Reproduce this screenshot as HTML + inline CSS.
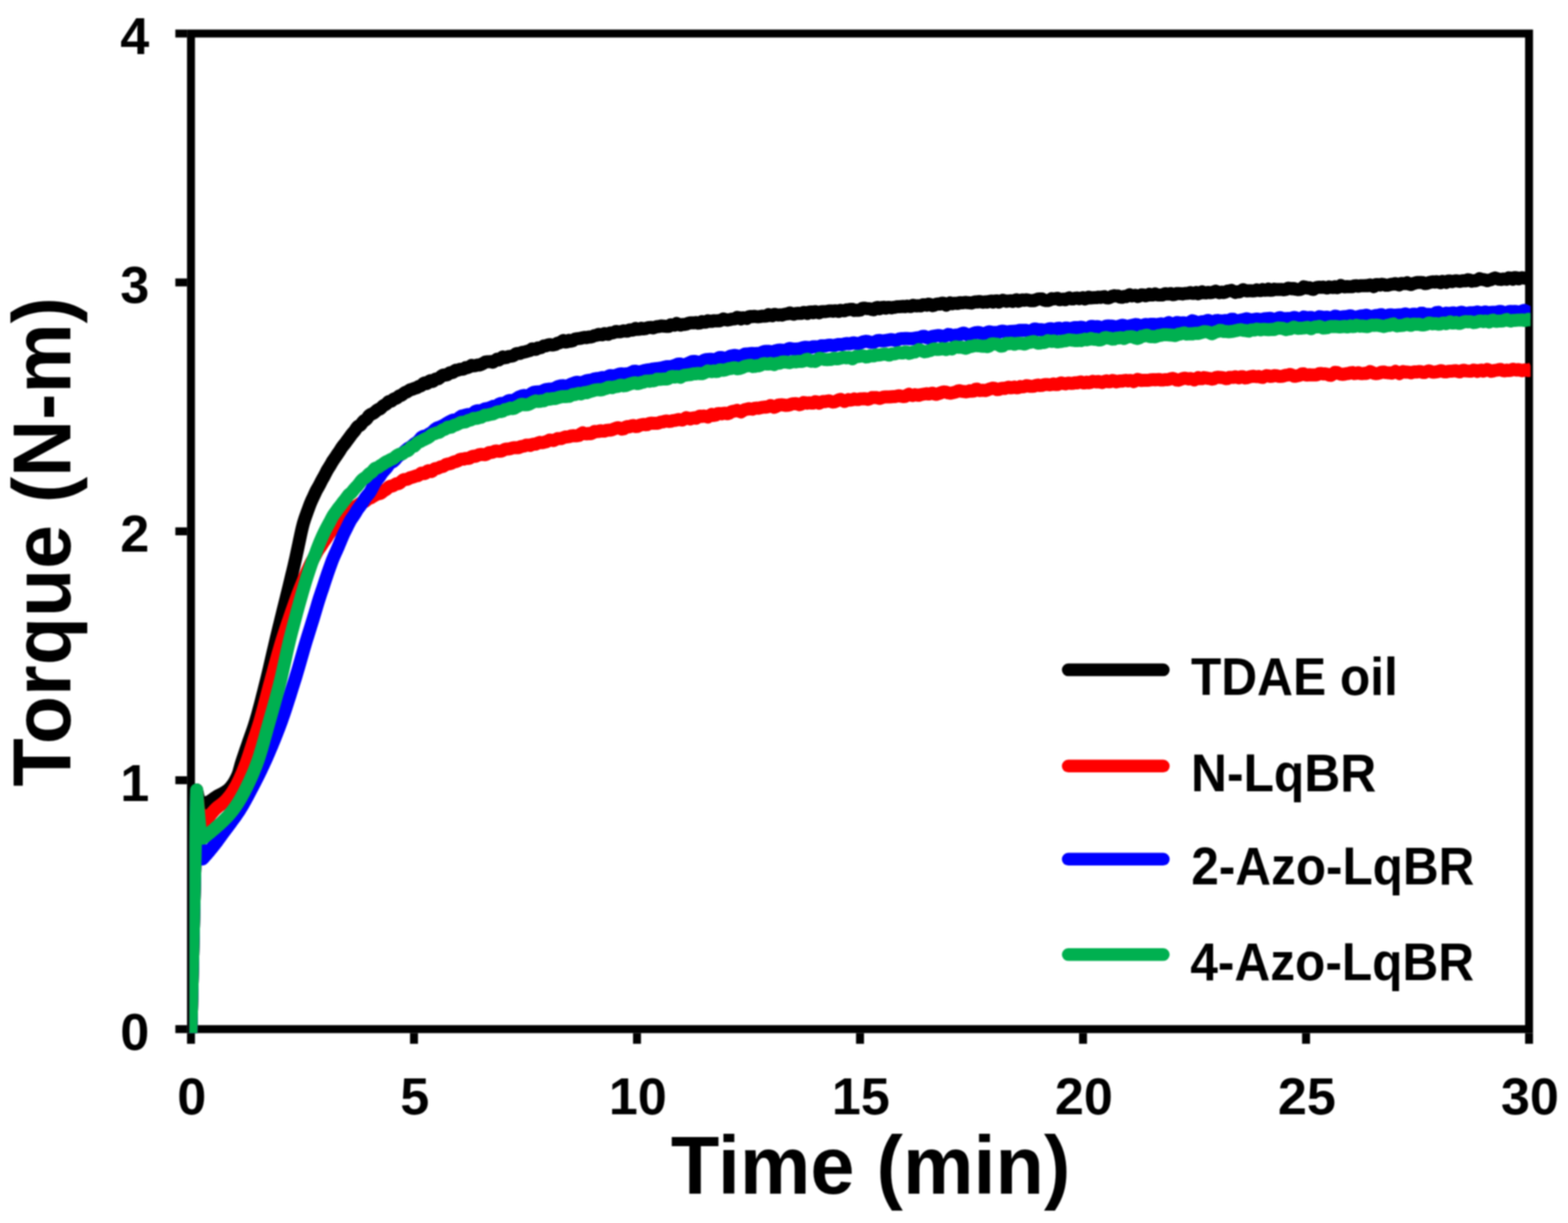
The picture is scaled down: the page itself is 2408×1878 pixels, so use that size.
<!DOCTYPE html>
<html lang="en">
<head>
<meta charset="utf-8">
<title>Torque vs. Time</title>
<style>
html,body{margin:0;padding:0;background:#fff;overflow:hidden}
svg{display:block;filter:blur(0.8px)}
text{font-family:"Liberation Sans",sans-serif;font-weight:700;fill:#000}
.ax{stroke:#000;stroke-width:12.2;fill:none}
.c{fill:none;stroke-width:20;stroke-linejoin:round;stroke-linecap:butt}
.lg{fill:none;stroke-width:19.5;stroke-linecap:round}
</style>
</head>
<body>
<svg role="img" aria-label="Torque versus time curves" width="2408" height="1878" viewBox="0 0 2408 1878">
<defs><clipPath id="plot"><rect x="290.8" y="0" width="2059.7" height="1586.4"/></clipPath></defs>
<rect x="0" y="0" width="2408" height="1878" fill="#fff"/>
<g class="ax">
<rect x="293.3" y="51.5" width="2054.9" height="1528.8"/>
<line x1="269.3" y1="1580.30" x2="287.2" y2="1580.30"/>
<line x1="269.3" y1="1198.10" x2="287.2" y2="1198.10"/>
<line x1="269.3" y1="815.90" x2="287.2" y2="815.90"/>
<line x1="269.3" y1="433.70" x2="287.2" y2="433.70"/>
<line x1="269.3" y1="51.50" x2="287.2" y2="51.50"/>
<line x1="293.30" y1="1586.4" x2="293.30" y2="1602.8"/>
<line x1="635.78" y1="1586.4" x2="635.78" y2="1602.8"/>
<line x1="978.27" y1="1586.4" x2="978.27" y2="1602.8"/>
<line x1="1320.75" y1="1586.4" x2="1320.75" y2="1602.8"/>
<line x1="1663.23" y1="1586.4" x2="1663.23" y2="1602.8"/>
<line x1="2005.72" y1="1586.4" x2="2005.72" y2="1602.8"/>
<line x1="2348.20" y1="1586.4" x2="2348.20" y2="1602.8"/>
</g>
<g clip-path="url(#plot)">
<path class="c" stroke="#000000" d="M293.1,1592.0 L302.0,1213.0 L307.0,1236.0 L307.0,1236.0 L308.5,1235.7 L310.0,1235.3 L311.5,1234.8 L313.0,1234.3 L314.5,1233.8 L316.0,1233.2 L317.5,1232.6 L319.0,1231.9 L320.5,1231.3 L322.0,1230.5 L323.5,1229.6 L325.0,1228.6 L326.5,1227.5 L328.0,1226.4 L329.5,1225.4 L331.0,1224.3 L332.5,1223.3 L334.0,1222.4 L335.5,1221.6 L337.0,1220.8 L338.5,1220.0 L340.0,1219.2 L341.5,1218.5 L343.0,1217.7 L344.5,1216.8 L346.0,1215.9 L347.5,1214.9 L349.0,1213.8 L350.5,1212.6 L352.0,1211.2 L353.5,1209.6 L355.0,1207.8 L356.5,1205.8 L358.0,1203.7 L359.5,1201.3 L361.0,1198.8 L362.5,1196.0 L364.0,1193.0 L365.5,1189.6 L367.0,1185.0 L368.5,1179.7 L370.0,1174.3 L371.5,1169.4 L373.0,1164.8 L374.5,1160.4 L376.0,1156.0 L377.5,1151.6 L379.0,1147.3 L380.5,1142.9 L382.0,1138.5 L383.5,1134.3 L385.0,1130.0 L386.5,1125.8 L388.0,1121.6 L389.5,1117.2 L391.0,1112.6 L392.5,1107.7 L394.0,1102.6 L395.5,1097.4 L397.0,1091.9 L398.5,1086.4 L400.0,1080.7 L401.5,1074.9 L403.0,1069.0 L404.5,1063.1 L406.0,1057.2 L407.5,1051.2 L409.0,1045.2 L410.5,1039.0 L412.0,1032.8 L413.5,1026.5 L415.0,1020.1 L416.5,1013.6 L418.0,1007.1 L419.5,1000.6 L421.0,994.2 L422.5,987.8 L424.0,981.4 L425.5,975.1 L427.0,968.9 L428.5,962.7 L430.0,956.6 L431.5,950.4 L433.0,944.3 L434.5,938.2 L436.0,932.2 L437.5,926.1 L439.0,920.1 L440.5,914.0 L442.0,908.0 L443.5,901.8 L445.0,895.6 L446.5,889.4 L448.0,883.2 L449.5,877.0 L451.0,870.7 L452.5,864.2 L454.0,857.6 L455.5,850.7 L457.0,843.6 L458.5,836.5 L460.0,829.4 L461.5,822.3 L463.0,815.4 L464.5,809.0 L466.0,803.3 L467.5,798.5 L469.0,794.1 L470.5,789.9 L472.0,785.7 L473.5,781.6 L475.0,777.6 L476.5,773.6 L478.0,769.9 L479.5,766.6 L481.0,763.5 L482.5,760.3 L484.0,757.0 L485.5,753.8 L487.0,751.0 L488.5,748.4 L490.0,745.8 L491.5,743.0 L493.0,739.9 L494.5,737.0 L496.0,734.3 L497.5,731.7 L499.0,728.9 L500.5,726.0 L502.0,723.0 L503.5,720.4 L505.0,718.1 L506.5,715.8 L508.0,713.2 L509.5,710.5 L511.0,708.0 L512.5,705.8 L514.0,703.6 L515.5,701.5 L517.0,699.2 L518.5,697.0 L520.0,694.8 L521.5,692.6 L523.0,690.2 L524.5,687.8 L526.0,685.7 L527.5,683.8 L529.0,682.0 L530.5,680.1 L532.0,678.0 L533.5,675.9 L535.0,673.9 L536.5,672.0 L538.0,669.9 L539.5,667.8 L541.0,665.9 L542.5,664.2 L544.0,662.5 L545.5,660.5 L547.0,658.1 L548.5,656.0 L550.0,654.6 L551.5,653.9 L553.0,653.1 L554.5,651.7 L556.0,649.5 L557.5,647.5 L559.0,646.1 L560.5,645.4 L562.0,644.5 L563.5,642.8 L565.0,640.7 L566.5,638.6 L568.0,637.2 L569.5,636.3 L571.0,635.7 L572.5,635.0 L574.0,634.1 L575.5,633.0 L577.0,631.7 L578.5,630.4 L580.0,629.3 L581.5,628.6 L583.0,628.1 L584.5,627.2 L586.0,625.7 L587.5,624.0 L589.0,622.7 L590.5,622.0 L592.0,621.3 L593.5,620.1 L595.0,618.5 L596.5,617.1 L598.0,616.4 L599.5,616.3 L601.0,615.9 L602.5,614.8 L604.0,613.4 L605.5,612.3 L607.0,611.9 L608.5,611.5 L610.0,610.6 L611.5,609.3 L613.0,608.1 L614.5,607.5 L616.0,607.1 L617.5,606.3 L619.0,605.0 L620.5,603.7 L622.0,602.8 L623.5,602.3 L625.0,601.8 L626.5,600.8 L628.0,599.7 L629.5,598.8 L631.0,598.3 L632.5,598.0 L634.0,597.4 L635.5,596.8 L637.0,596.2 L638.5,595.8 L640.0,595.3 L641.5,594.4 L643.0,593.6 L644.5,593.1 L646.0,592.6 L647.5,591.8 L649.0,590.3 L650.5,588.7 L652.0,588.1 L653.5,588.5 L655.0,589.0 L656.5,588.5 L658.0,586.9 L659.5,585.2 L661.0,584.6 L662.5,585.2 L664.0,585.7 L665.5,585.2 L667.0,583.8 L668.5,582.3 L670.0,581.7 L671.5,581.7 L673.0,581.6 L674.5,580.8 L676.0,579.4 L677.5,577.9 L679.0,576.8 L680.5,576.1 L682.0,575.8 L683.5,575.8 L685.0,575.9 L686.5,575.7 L688.0,574.7 L689.5,573.4 L691.0,572.4 L692.5,572.2 L694.0,572.3 L695.5,572.0 L697.0,570.9 L698.5,569.4 L700.0,568.6 L703.0,568.5 L706.0,567.3 L709.0,567.0 L712.0,566.8 L715.0,564.6 L718.0,564.4 L721.0,563.2 L724.0,561.1 L727.0,561.8 L730.0,561.5 L733.0,560.6 L736.0,560.6 L739.0,559.5 L742.0,558.0 L745.0,556.1 L748.0,555.4 L751.0,555.4 L754.0,555.2 L757.0,556.3 L760.0,554.3 L763.0,551.6 L766.0,552.8 L769.0,550.7 L772.0,548.1 L775.0,549.5 L778.0,549.0 L781.0,547.4 L784.0,547.1 L787.0,546.7 L790.0,545.3 L793.0,542.9 L796.0,542.7 L799.0,542.7 L802.0,540.9 L805.0,540.7 L808.0,539.9 L811.0,539.0 L814.0,538.1 L817.0,535.7 L820.0,536.1 L823.0,536.6 L826.0,534.3 L829.0,534.2 L832.0,533.3 L835.0,531.3 L838.0,531.1 L841.0,530.0 L844.0,529.2 L847.0,529.7 L850.0,529.7 L853.0,528.9 L856.0,527.1 L859.0,526.5 L862.0,524.7 L865.0,522.9 L868.0,525.3 L871.0,525.1 L874.0,522.6 L877.0,523.9 L880.0,523.1 L883.0,520.6 L886.0,520.2 L889.0,519.8 L892.0,519.6 L895.0,518.6 L898.0,518.1 L901.0,518.5 L904.0,517.6 L907.0,517.4 L910.0,516.7 L913.0,515.3 L916.0,514.9 L919.0,513.5 L922.0,513.8 L925.0,514.2 L928.0,512.2 L931.0,513.1 L934.0,513.4 L937.0,511.2 L940.0,511.3 L943.0,510.5 L946.0,508.9 L949.0,509.5 L952.0,509.6 L955.0,508.8 L958.0,508.0 L961.0,508.5 L964.0,508.4 L967.0,506.4 L970.0,507.1 L973.0,506.6 L976.0,504.3 L979.0,505.8 L982.0,505.6 L985.0,504.1 L988.0,505.1 L991.0,504.7 L994.0,503.5 L997.0,502.9 L1000.0,502.7 L1003.0,503.5 L1006.0,502.5 L1009.0,501.5 L1012.0,501.4 L1015.0,500.5 L1018.0,500.7 L1021.0,500.9 L1024.0,501.3 L1027.0,501.3 L1030.0,498.8 L1033.0,499.1 L1036.0,499.4 L1039.0,496.7 L1042.0,497.8 L1045.0,499.3 L1048.0,498.3 L1051.0,498.3 L1054.0,497.7 L1057.0,496.4 L1060.0,495.7 L1063.0,495.7 L1066.0,495.8 L1069.0,495.2 L1072.0,496.2 L1075.0,496.1 L1078.0,493.8 L1081.0,494.8 L1084.0,494.7 L1087.0,492.5 L1090.0,493.6 L1093.0,493.6 L1096.0,492.4 L1099.0,492.7 L1102.0,492.6 L1105.0,492.8 L1108.0,491.4 L1111.0,489.7 L1114.0,491.0 L1117.0,491.5 L1120.0,490.9 L1123.0,490.2 L1126.0,489.8 L1129.0,489.5 L1132.0,487.3 L1135.0,487.9 L1138.0,489.8 L1141.0,488.0 L1144.0,488.4 L1147.0,489.1 L1150.0,486.4 L1153.0,486.0 L1156.0,486.2 L1159.0,485.7 L1162.0,486.3 L1165.0,486.4 L1168.0,486.0 L1171.0,485.4 L1174.0,485.5 L1177.0,485.2 L1180.0,483.1 L1183.0,484.1 L1186.0,484.9 L1189.0,482.7 L1192.0,483.2 L1195.0,483.8 L1198.0,483.4 L1201.0,483.9 L1204.0,482.8 L1207.0,482.2 L1210.0,481.8 L1213.0,480.5 L1216.0,481.8 L1219.0,482.5 L1222.0,481.5 L1225.0,481.1 L1228.0,481.2 L1231.0,481.2 L1234.0,479.8 L1237.0,480.0 L1240.0,481.4 L1243.0,479.2 L1246.0,478.9 L1249.0,480.2 L1252.0,478.5 L1255.0,479.3 L1258.0,480.5 L1261.0,478.7 L1264.0,478.4 L1267.0,478.5 L1270.0,478.1 L1273.0,477.6 L1276.0,477.4 L1279.0,477.9 L1282.0,477.2 L1285.0,477.5 L1288.0,478.2 L1291.0,476.5 L1294.0,477.0 L1297.0,477.3 L1300.0,475.7 L1303.0,475.7 L1306.0,474.9 L1309.0,475.0 L1312.0,476.7 L1315.0,476.3 L1318.0,476.6 L1321.0,476.2 L1324.0,473.7 L1327.0,473.2 L1330.0,473.7 L1333.0,473.9 L1336.0,474.2 L1339.0,475.2 L1342.0,475.8 L1345.0,472.8 L1348.0,472.1 L1351.0,474.1 L1354.0,472.2 L1357.0,471.8 L1360.0,473.3 L1363.0,472.0 L1366.0,472.1 L1369.0,472.7 L1372.0,472.0 L1375.0,471.7 L1378.0,470.9 L1381.0,470.9 L1384.0,470.7 L1387.0,470.5 L1390.0,470.9 L1393.0,470.0 L1396.0,470.5 L1399.0,470.7 L1402.0,468.7 L1405.0,469.3 L1408.0,469.8 L1411.0,469.4 L1414.0,469.8 L1417.0,468.1 L1420.0,467.9 L1423.0,468.7 L1426.0,467.0 L1429.0,467.7 L1432.0,469.5 L1435.0,468.6 L1438.0,467.1 L1441.0,466.7 L1444.0,467.0 L1447.0,465.5 L1450.0,465.9 L1453.0,468.6 L1456.0,466.8 L1459.0,465.1 L1462.0,466.5 L1465.0,465.7 L1468.0,465.7 L1471.0,466.1 L1474.0,464.8 L1477.0,465.0 L1480.0,464.7 L1483.0,464.3 L1486.0,464.8 L1489.0,465.0 L1492.0,465.4 L1495.0,464.3 L1498.0,463.6 L1501.0,463.8 L1504.0,462.9 L1507.0,463.6 L1510.0,464.2 L1513.0,463.4 L1516.0,464.0 L1519.0,462.8 L1522.0,462.3 L1525.0,463.9 L1528.0,462.3 L1531.0,462.1 L1534.0,463.9 L1537.0,462.5 L1540.0,461.1 L1543.0,461.7 L1546.0,462.7 L1549.0,462.2 L1552.0,461.8 L1555.0,462.9 L1558.0,461.3 L1561.0,460.4 L1564.0,462.6 L1567.0,461.5 L1570.0,460.4 L1573.0,461.2 L1576.0,460.3 L1579.0,460.9 L1582.0,461.7 L1585.0,461.6 L1588.0,461.8 L1591.0,460.4 L1594.0,459.2 L1597.0,458.9 L1600.0,459.0 L1603.0,460.7 L1606.0,461.4 L1609.0,461.6 L1612.0,460.7 L1615.0,458.6 L1618.0,459.0 L1621.0,458.6 L1624.0,458.0 L1627.0,460.3 L1630.0,459.9 L1633.0,459.2 L1636.0,460.3 L1639.0,458.4 L1642.0,457.4 L1645.0,458.9 L1648.0,459.0 L1651.0,458.0 L1654.0,457.6 L1657.0,458.7 L1660.0,458.0 L1663.0,457.1 L1666.0,459.1 L1669.0,458.0 L1672.0,456.3 L1675.0,457.6 L1678.0,457.2 L1681.0,457.0 L1684.0,457.1 L1687.0,456.2 L1690.0,456.8 L1693.0,456.1 L1696.0,455.5 L1699.0,457.3 L1702.0,457.5 L1705.0,456.5 L1708.0,454.9 L1711.0,454.1 L1714.0,454.6 L1717.0,454.5 L1720.0,456.1 L1723.0,456.6 L1726.0,455.2 L1729.0,455.6 L1732.0,454.0 L1735.0,452.5 L1738.0,454.5 L1741.0,453.9 L1744.0,453.5 L1747.0,455.4 L1750.0,454.5 L1753.0,452.7 L1756.0,452.9 L1759.0,454.3 L1762.0,453.6 L1765.0,451.9 L1768.0,453.1 L1771.0,453.0 L1774.0,451.4 L1777.0,452.8 L1780.0,453.1 L1783.0,453.0 L1786.0,452.9 L1789.0,451.0 L1792.0,451.3 L1795.0,451.5 L1798.0,450.8 L1801.0,452.4 L1804.0,452.2 L1807.0,450.8 L1810.0,450.7 L1813.0,450.9 L1816.0,451.4 L1819.0,450.8 L1822.0,450.6 L1825.0,450.3 L1828.0,449.3 L1831.0,450.6 L1834.0,450.4 L1837.0,449.1 L1840.0,451.1 L1843.0,450.1 L1846.0,448.0 L1849.0,449.6 L1852.0,449.7 L1855.0,449.0 L1858.0,449.4 L1861.0,449.3 L1864.0,448.3 L1867.0,447.1 L1870.0,448.4 L1873.0,449.4 L1876.0,448.5 L1879.0,449.3 L1882.0,448.6 L1885.0,446.9 L1888.0,446.6 L1891.0,445.8 L1894.0,447.4 L1897.0,449.1 L1900.0,448.1 L1903.0,448.2 L1906.0,446.9 L1909.0,444.8 L1912.0,446.1 L1915.0,446.8 L1918.0,446.5 L1921.0,446.5 L1924.0,446.7 L1927.0,446.5 L1930.0,445.1 L1933.0,446.0 L1936.0,446.3 L1939.0,444.6 L1942.0,445.8 L1945.0,445.6 L1948.0,443.9 L1951.0,445.8 L1954.0,445.6 L1957.0,444.0 L1960.0,444.5 L1963.0,444.4 L1966.0,444.4 L1969.0,444.6 L1972.0,445.0 L1975.0,444.5 L1978.0,442.5 L1981.0,442.9 L1984.0,443.5 L1987.0,442.9 L1990.0,444.2 L1993.0,444.7 L1996.0,444.6 L1999.0,443.5 L2002.0,440.4 L2005.0,441.1 L2008.0,442.5 L2011.0,441.8 L2014.0,443.9 L2017.0,444.5 L2020.0,442.2 L2023.0,441.2 L2026.0,441.1 L2029.0,441.3 L2032.0,440.8 L2035.0,441.6 L2038.0,442.3 L2041.0,440.6 L2044.0,441.2 L2047.0,441.6 L2050.0,440.4 L2053.0,441.8 L2056.0,440.9 L2059.0,438.4 L2062.0,439.8 L2065.0,440.5 L2068.0,440.1 L2071.0,440.2 L2074.0,440.2 L2077.0,440.3 L2080.0,438.9 L2083.0,438.7 L2086.0,439.6 L2089.0,438.8 L2092.0,438.7 L2095.0,438.7 L2098.0,438.6 L2101.0,438.8 L2104.0,437.5 L2107.0,438.9 L2110.0,440.1 L2113.0,437.0 L2116.0,436.9 L2119.0,437.7 L2122.0,436.4 L2125.0,437.1 L2128.0,438.1 L2131.0,437.9 L2134.0,437.2 L2137.0,436.5 L2140.0,436.3 L2143.0,435.4 L2146.0,436.7 L2149.0,437.6 L2152.0,435.3 L2155.0,435.5 L2158.0,435.5 L2161.0,434.2 L2164.0,436.3 L2167.0,437.0 L2170.0,435.5 L2173.0,434.8 L2176.0,433.8 L2179.0,433.8 L2182.0,433.8 L2185.0,434.0 L2188.0,435.5 L2191.0,435.2 L2194.0,434.2 L2197.0,433.3 L2200.0,432.7 L2203.0,433.2 L2206.0,432.5 L2209.0,433.1 L2212.0,434.2 L2215.0,432.1 L2218.0,432.6 L2221.0,433.8 L2224.0,431.5 L2227.0,431.6 L2230.0,432.6 L2233.0,431.6 L2236.0,431.2 L2239.0,431.7 L2242.0,432.2 L2245.0,431.3 L2248.0,431.1 L2251.0,431.3 L2254.0,429.4 L2257.0,430.1 L2260.0,431.9 L2263.0,431.0 L2266.0,431.2 L2269.0,430.0 L2272.0,427.9 L2275.0,428.8 L2278.0,429.3 L2281.0,430.0 L2284.0,431.0 L2287.0,430.2 L2290.0,429.4 L2293.0,427.9 L2296.0,426.8 L2299.0,427.9 L2302.0,428.8 L2305.0,429.2 L2308.0,428.5 L2311.0,428.4 L2314.0,428.9 L2317.0,426.6 L2320.0,426.9 L2323.0,428.7 L2326.0,426.2 L2329.0,426.4 L2332.0,428.3 L2335.0,427.0 L2338.0,426.4 L2341.0,427.2 L2344.0,427.6 L2347.0,426.7 L2350.0,425.5 L2353.0,426.0"/>
<path class="c" stroke="#ff0000" d="M293.1,1592.0 L302.0,1215.0 L305.0,1245.0 L316.0,1261.0 L316.0,1261.0 L317.5,1258.8 L319.0,1256.7 L320.5,1254.7 L322.0,1252.7 L323.5,1250.8 L325.0,1248.9 L326.5,1247.2 L328.0,1245.5 L329.5,1243.8 L331.0,1242.3 L332.5,1240.9 L334.0,1239.6 L335.5,1238.3 L337.0,1237.2 L338.5,1236.1 L340.0,1235.0 L341.5,1233.8 L343.0,1232.6 L344.5,1231.3 L346.0,1229.9 L347.5,1228.3 L349.0,1226.7 L350.5,1224.9 L352.0,1223.0 L353.5,1221.1 L355.0,1219.0 L356.5,1216.8 L358.0,1214.5 L359.5,1212.1 L361.0,1209.5 L362.5,1206.9 L364.0,1204.1 L365.5,1201.2 L367.0,1198.2 L368.5,1195.0 L370.0,1191.6 L371.5,1188.1 L373.0,1184.5 L374.5,1180.7 L376.0,1176.9 L377.5,1172.9 L379.0,1168.9 L380.5,1164.7 L382.0,1160.2 L383.5,1155.6 L385.0,1150.9 L386.5,1146.2 L388.0,1141.5 L389.5,1137.0 L391.0,1132.6 L392.5,1128.2 L394.0,1123.7 L395.5,1119.2 L397.0,1114.5 L398.5,1109.7 L400.0,1104.6 L401.5,1099.2 L403.0,1093.7 L404.5,1088.1 L406.0,1082.4 L407.5,1076.6 L409.0,1070.8 L410.5,1065.0 L412.0,1059.3 L413.5,1053.7 L415.0,1048.2 L416.5,1042.7 L418.0,1037.1 L419.5,1031.5 L421.0,1026.0 L422.5,1020.4 L424.0,1014.9 L425.5,1009.4 L427.0,1004.0 L428.5,998.7 L430.0,993.5 L431.5,988.4 L433.0,983.5 L434.5,978.7 L436.0,974.1 L437.5,969.5 L439.0,965.0 L440.5,960.5 L442.0,956.1 L443.5,951.7 L445.0,947.3 L446.5,942.8 L448.0,938.5 L449.5,934.2 L451.0,930.0 L452.5,925.8 L454.0,921.7 L455.5,917.5 L457.0,913.4 L458.5,909.4 L460.0,905.5 L461.5,901.8 L463.0,898.2 L464.5,894.5 L466.0,890.7 L467.5,886.9 L469.0,883.3 L470.5,879.8 L472.0,876.5 L473.5,873.3 L475.0,870.0 L476.5,866.8 L478.0,863.8 L479.5,861.0 L481.0,858.4 L482.5,855.8 L484.0,853.0 L485.5,850.1 L487.0,847.3 L488.5,844.9 L490.0,842.8 L491.5,840.7 L493.0,838.5 L494.5,836.1 L496.0,833.7 L497.5,831.5 L499.0,829.5 L500.5,827.4 L502.0,825.2 L503.5,822.7 L505.0,820.3 L506.5,818.1 L508.0,816.2 L509.5,814.5 L511.0,812.6 L512.5,810.5 L514.0,808.3 L515.5,806.2 L517.0,804.3 L518.5,802.7 L520.0,801.2 L521.5,799.6 L523.0,797.8 L524.5,795.8 L526.0,794.0 L527.5,792.5 L529.0,791.4 L530.5,790.8 L532.0,790.1 L533.5,789.0 L535.0,787.6 L536.5,785.9 L538.0,784.4 L539.5,783.1 L541.0,782.0 L542.5,780.9 L544.0,779.6 L545.5,778.2 L547.0,777.1 L548.5,776.2 L550.0,775.3 L551.5,774.3 L553.0,773.3 L554.5,772.3 L556.0,771.6 L557.5,771.3 L559.0,770.8 L560.5,770.0 L562.0,768.8 L563.5,767.5 L565.0,766.3 L566.5,765.5 L568.0,764.9 L569.5,764.3 L571.0,763.4 L572.5,762.5 L574.0,761.6 L575.5,760.7 L577.0,759.9 L578.5,759.1 L580.0,758.6 L581.5,758.3 L583.0,758.0 L584.5,757.4 L586.0,756.4 L587.5,755.1 L589.0,753.9 L590.5,752.9 L592.0,752.1 L593.5,751.1 L595.0,749.8 L596.5,748.4 L598.0,747.2 L599.5,746.7 L601.0,746.5 L602.5,746.3 L604.0,745.7 L605.5,744.7 L607.0,743.7 L608.5,743.0 L610.0,742.8 L611.5,742.7 L613.0,742.1 L614.5,741.1 L616.0,739.6 L617.5,738.2 L619.0,737.1 L620.5,736.5 L622.0,736.3 L623.5,736.3 L625.0,736.0 L626.5,735.5 L628.0,734.6 L629.5,733.8 L631.0,733.3 L632.5,732.9 L634.0,732.6 L635.5,732.1 L637.0,731.4 L638.5,730.9 L640.0,730.6 L641.5,730.4 L643.0,729.8 L644.5,728.7 L646.0,727.3 L647.5,726.4 L649.0,726.4 L650.5,727.0 L652.0,727.3 L653.5,726.6 L655.0,725.0 L656.5,723.4 L658.0,722.7 L659.5,723.2 L661.0,724.0 L662.5,724.2 L664.0,723.3 L665.5,721.7 L667.0,720.3 L668.5,719.6 L670.0,719.4 L671.5,719.3 L673.0,718.8 L674.5,718.0 L676.0,717.3 L677.5,716.8 L679.0,716.5 L680.5,716.1 L682.0,715.3 L683.5,714.3 L685.0,713.4 L686.5,712.8 L688.0,712.4 L689.5,712.3 L691.0,712.1 L692.5,711.6 L694.0,710.9 L695.5,710.1 L697.0,709.5 L698.5,709.0 L700.0,708.8 L703.0,707.7 L706.0,705.8 L709.0,705.1 L712.0,705.0 L715.0,703.9 L718.0,703.9 L721.0,703.8 L724.0,701.4 L727.0,700.4 L730.0,700.8 L733.0,699.5 L736.0,698.1 L739.0,697.8 L742.0,697.9 L745.0,698.3 L748.0,697.0 L751.0,694.9 L754.0,694.8 L757.0,694.4 L760.0,692.7 L763.0,692.5 L766.0,693.0 L769.0,692.8 L772.0,691.9 L775.0,690.2 L778.0,689.4 L781.0,689.5 L784.0,688.9 L787.0,687.8 L790.0,687.4 L793.0,687.6 L796.0,687.5 L799.0,686.2 L802.0,685.3 L805.0,684.9 L808.0,683.5 L811.0,683.4 L814.0,684.0 L817.0,682.7 L820.0,681.9 L823.0,682.0 L826.0,680.4 L829.0,679.3 L832.0,679.8 L835.0,679.3 L838.0,678.6 L841.0,677.4 L844.0,675.7 L847.0,675.9 L850.0,676.6 L853.0,675.1 L856.0,673.6 L859.0,673.6 L862.0,673.4 L865.0,672.2 L868.0,671.1 L871.0,670.9 L874.0,670.6 L877.0,669.5 L880.0,669.1 L883.0,669.2 L886.0,669.2 L889.0,668.7 L892.0,666.2 L895.0,664.6 L898.0,666.0 L901.0,666.2 L904.0,665.5 L907.0,666.1 L910.0,664.8 L913.0,662.5 L916.0,662.9 L919.0,662.6 L922.0,661.4 L925.0,662.0 L928.0,662.1 L931.0,661.0 L934.0,660.6 L937.0,660.6 L940.0,659.8 L943.0,658.7 L946.0,657.5 L949.0,656.8 L952.0,657.5 L955.0,659.0 L958.0,658.5 L961.0,655.8 L964.0,654.9 L967.0,655.4 L970.0,653.9 L973.0,653.5 L976.0,655.0 L979.0,654.7 L982.0,653.2 L985.0,652.3 L988.0,651.7 L991.0,652.2 L994.0,652.0 L997.0,650.3 L1000.0,649.7 L1003.0,649.9 L1006.0,650.0 L1009.0,650.1 L1012.0,649.3 L1015.0,648.1 L1018.0,647.8 L1021.0,646.9 L1024.0,646.4 L1027.0,647.2 L1030.0,646.9 L1033.0,645.9 L1036.0,645.6 L1039.0,645.0 L1042.0,644.3 L1045.0,644.6 L1048.0,645.0 L1051.0,643.4 L1054.0,641.3 L1057.0,642.1 L1060.0,643.5 L1063.0,642.1 L1066.0,641.6 L1069.0,642.2 L1072.0,640.3 L1075.0,638.9 L1078.0,639.4 L1081.0,638.8 L1084.0,639.3 L1087.0,640.4 L1090.0,638.0 L1093.0,636.4 L1096.0,638.0 L1099.0,637.5 L1102.0,635.2 L1105.0,635.0 L1108.0,635.5 L1111.0,634.7 L1114.0,634.4 L1117.0,635.3 L1120.0,634.4 L1123.0,632.2 L1126.0,631.6 L1129.0,631.0 L1132.0,630.1 L1135.0,631.6 L1138.0,632.6 L1141.0,630.5 L1144.0,629.0 L1147.0,628.4 L1150.0,627.4 L1153.0,628.1 L1156.0,628.4 L1159.0,626.9 L1162.0,626.6 L1165.0,626.9 L1168.0,626.1 L1171.0,625.4 L1174.0,625.1 L1177.0,625.2 L1180.0,624.3 L1183.0,622.7 L1186.0,623.6 L1189.0,625.5 L1192.0,624.3 L1195.0,622.2 L1198.0,621.7 L1201.0,621.6 L1204.0,622.0 L1207.0,622.6 L1210.0,622.3 L1213.0,621.5 L1216.0,620.4 L1219.0,619.9 L1222.0,619.8 L1225.0,620.4 L1228.0,621.4 L1231.0,620.5 L1234.0,618.1 L1237.0,618.5 L1240.0,619.2 L1243.0,618.4 L1246.0,619.1 L1249.0,619.0 L1252.0,616.7 L1255.0,617.3 L1258.0,619.1 L1261.0,617.7 L1264.0,616.4 L1267.0,616.8 L1270.0,616.1 L1273.0,615.5 L1276.0,616.5 L1279.0,617.4 L1282.0,617.0 L1285.0,615.6 L1288.0,614.0 L1291.0,613.3 L1294.0,614.8 L1297.0,616.5 L1300.0,615.1 L1303.0,613.6 L1306.0,614.5 L1309.0,614.0 L1312.0,612.6 L1315.0,613.4 L1318.0,613.6 L1321.0,612.5 L1324.0,612.4 L1327.0,612.2 L1330.0,612.5 L1333.0,613.3 L1336.0,612.1 L1339.0,610.6 L1342.0,610.4 L1345.0,610.4 L1348.0,611.0 L1351.0,611.8 L1354.0,610.8 L1357.0,609.7 L1360.0,609.5 L1363.0,609.6 L1366.0,609.5 L1369.0,609.2 L1372.0,609.0 L1375.0,608.9 L1378.0,608.1 L1381.0,607.7 L1384.0,608.4 L1387.0,609.0 L1390.0,608.7 L1393.0,606.8 L1396.0,605.4 L1399.0,606.9 L1402.0,607.4 L1405.0,606.1 L1408.0,606.6 L1411.0,607.1 L1414.0,606.0 L1417.0,605.5 L1420.0,605.0 L1423.0,604.5 L1426.0,605.1 L1429.0,604.5 L1432.0,603.7 L1435.0,605.0 L1438.0,605.6 L1441.0,604.6 L1444.0,603.5 L1447.0,602.4 L1450.0,601.8 L1453.0,602.2 L1456.0,603.2 L1459.0,603.8 L1462.0,603.3 L1465.0,602.7 L1468.0,601.9 L1471.0,600.4 L1474.0,600.0 L1477.0,600.9 L1480.0,601.2 L1483.0,601.7 L1486.0,601.4 L1489.0,600.1 L1492.0,600.8 L1495.0,600.6 L1498.0,597.8 L1501.0,597.6 L1504.0,599.7 L1507.0,599.5 L1510.0,599.2 L1513.0,599.8 L1516.0,598.9 L1519.0,597.7 L1522.0,596.8 L1525.0,595.9 L1528.0,596.6 L1531.0,598.3 L1534.0,598.1 L1537.0,596.6 L1540.0,596.2 L1543.0,596.5 L1546.0,595.4 L1549.0,594.4 L1552.0,595.4 L1555.0,595.2 L1558.0,594.3 L1561.0,595.4 L1564.0,595.2 L1567.0,593.6 L1570.0,593.9 L1573.0,593.7 L1576.0,592.3 L1579.0,592.5 L1582.0,593.2 L1585.0,593.3 L1588.0,593.0 L1591.0,591.8 L1594.0,591.3 L1597.0,592.0 L1600.0,591.8 L1603.0,590.9 L1606.0,590.4 L1609.0,590.5 L1612.0,591.0 L1615.0,590.5 L1618.0,589.5 L1621.0,590.4 L1624.0,590.6 L1627.0,588.8 L1630.0,588.0 L1633.0,589.0 L1636.0,589.5 L1639.0,588.7 L1642.0,588.2 L1645.0,588.8 L1648.0,588.5 L1651.0,587.7 L1654.0,588.0 L1657.0,587.2 L1660.0,586.4 L1663.0,587.9 L1666.0,588.0 L1669.0,586.7 L1672.0,587.7 L1675.0,587.4 L1678.0,585.5 L1681.0,586.0 L1684.0,586.6 L1687.0,585.7 L1690.0,586.7 L1693.0,587.4 L1696.0,585.6 L1699.0,584.8 L1702.0,586.3 L1705.0,586.3 L1708.0,584.3 L1711.0,584.6 L1714.0,586.4 L1717.0,585.8 L1720.0,584.9 L1723.0,585.3 L1726.0,584.4 L1729.0,584.1 L1732.0,585.0 L1735.0,584.2 L1738.0,584.4 L1741.0,586.1 L1744.0,584.6 L1747.0,582.5 L1750.0,583.4 L1753.0,584.3 L1756.0,584.1 L1759.0,584.1 L1762.0,584.0 L1765.0,583.7 L1768.0,583.2 L1771.0,582.9 L1774.0,583.3 L1777.0,582.9 L1780.0,582.7 L1783.0,583.6 L1786.0,583.6 L1789.0,582.9 L1792.0,583.1 L1795.0,582.7 L1798.0,581.6 L1801.0,581.1 L1804.0,582.0 L1807.0,583.6 L1810.0,583.9 L1813.0,582.6 L1816.0,581.5 L1819.0,580.7 L1822.0,581.1 L1825.0,581.9 L1828.0,581.2 L1831.0,581.9 L1834.0,583.5 L1837.0,581.6 L1840.0,579.9 L1843.0,581.6 L1846.0,581.5 L1849.0,579.8 L1852.0,580.3 L1855.0,581.0 L1858.0,581.3 L1861.0,582.2 L1864.0,581.6 L1867.0,579.8 L1870.0,579.2 L1873.0,579.6 L1876.0,579.8 L1879.0,580.1 L1882.0,581.4 L1885.0,581.2 L1888.0,579.5 L1891.0,579.4 L1894.0,579.6 L1897.0,578.6 L1900.0,579.6 L1903.0,580.3 L1906.0,578.5 L1909.0,578.6 L1912.0,580.4 L1915.0,580.0 L1918.0,579.0 L1921.0,578.3 L1924.0,577.7 L1927.0,578.1 L1930.0,578.4 L1933.0,578.1 L1936.0,579.2 L1939.0,579.6 L1942.0,578.0 L1945.0,576.8 L1948.0,577.2 L1951.0,578.0 L1954.0,577.8 L1957.0,576.8 L1960.0,576.9 L1963.0,577.7 L1966.0,578.0 L1969.0,577.8 L1972.0,577.0 L1975.0,576.2 L1978.0,575.8 L1981.0,575.0 L1984.0,575.8 L1987.0,577.8 L1990.0,577.7 L1993.0,576.9 L1996.0,576.3 L1999.0,574.3 L2002.0,574.0 L2005.0,575.8 L2008.0,575.9 L2011.0,575.5 L2014.0,575.8 L2017.0,575.8 L2020.0,575.8 L2023.0,575.3 L2026.0,573.8 L2029.0,573.6 L2032.0,574.2 L2035.0,574.1 L2038.0,574.6 L2041.0,576.0 L2044.0,576.4 L2047.0,574.4 L2050.0,571.8 L2053.0,571.9 L2056.0,573.5 L2059.0,574.5 L2062.0,574.9 L2065.0,574.5 L2068.0,573.8 L2071.0,573.5 L2074.0,572.4 L2077.0,572.1 L2080.0,573.7 L2083.0,573.3 L2086.0,572.2 L2089.0,573.5 L2092.0,573.8 L2095.0,573.2 L2098.0,573.6 L2101.0,572.3 L2104.0,570.5 L2107.0,571.7 L2110.0,573.4 L2113.0,573.7 L2116.0,573.5 L2119.0,572.6 L2122.0,571.4 L2125.0,571.2 L2128.0,572.1 L2131.0,572.4 L2134.0,572.4 L2137.0,573.1 L2140.0,572.2 L2143.0,570.2 L2146.0,571.6 L2149.0,573.8 L2152.0,572.0 L2155.0,570.5 L2158.0,571.4 L2161.0,571.3 L2164.0,571.7 L2167.0,572.4 L2170.0,571.4 L2173.0,571.0 L2176.0,571.2 L2179.0,570.5 L2182.0,570.8 L2185.0,572.0 L2188.0,571.9 L2191.0,570.5 L2194.0,569.6 L2197.0,570.3 L2200.0,571.5 L2203.0,571.4 L2206.0,571.0 L2209.0,570.4 L2212.0,569.2 L2215.0,569.7 L2218.0,571.0 L2221.0,570.9 L2224.0,570.2 L2227.0,570.0 L2230.0,569.9 L2233.0,569.5 L2236.0,569.2 L2239.0,570.5 L2242.0,571.1 L2245.0,569.2 L2248.0,568.4 L2251.0,569.6 L2254.0,569.7 L2257.0,569.9 L2260.0,569.9 L2263.0,568.2 L2266.0,568.8 L2269.0,570.4 L2272.0,568.9 L2275.0,568.3 L2278.0,569.9 L2281.0,569.0 L2284.0,567.3 L2287.0,568.5 L2290.0,570.2 L2293.0,569.6 L2296.0,568.7 L2299.0,568.4 L2302.0,567.4 L2305.0,567.2 L2308.0,569.2 L2311.0,569.6 L2314.0,568.3 L2317.0,569.0 L2320.0,568.8 L2323.0,566.9 L2326.0,567.5 L2329.0,568.3 L2332.0,567.4 L2335.0,568.5 L2338.0,569.3 L2341.0,567.9 L2344.0,568.2 L2347.0,569.0 L2350.0,567.4 L2353.0,565.8"/>
<path class="c" stroke="#0000ff" d="M293.1,1592.0 L302.0,1215.0 L305.0,1290.0 L311.0,1319.0 L311.0,1319.0 L312.5,1317.4 L314.0,1315.7 L315.5,1314.0 L317.0,1312.3 L318.5,1310.5 L320.0,1308.8 L321.5,1307.0 L323.0,1305.1 L324.5,1303.3 L326.0,1301.5 L327.5,1299.6 L329.0,1297.7 L330.5,1295.8 L332.0,1293.9 L333.5,1291.9 L335.0,1289.8 L336.5,1287.8 L338.0,1285.7 L339.5,1283.6 L341.0,1281.5 L342.5,1279.5 L344.0,1277.4 L345.5,1275.4 L347.0,1273.4 L348.5,1271.5 L350.0,1269.5 L351.5,1267.5 L353.0,1265.4 L354.5,1263.4 L356.0,1261.3 L357.5,1259.3 L359.0,1257.2 L360.5,1255.2 L362.0,1253.1 L363.5,1250.9 L365.0,1248.7 L366.5,1246.5 L368.0,1244.2 L369.5,1241.8 L371.0,1239.3 L372.5,1236.8 L374.0,1234.2 L375.5,1231.6 L377.0,1228.9 L378.5,1226.1 L380.0,1223.4 L381.5,1220.6 L383.0,1217.7 L384.5,1214.9 L386.0,1212.0 L387.5,1209.1 L389.0,1206.2 L390.5,1203.3 L392.0,1200.4 L393.5,1197.5 L395.0,1194.5 L396.5,1191.5 L398.0,1188.5 L399.5,1185.4 L401.0,1182.3 L402.5,1179.1 L404.0,1175.9 L405.5,1172.6 L407.0,1169.3 L408.5,1166.0 L410.0,1162.6 L411.5,1159.2 L413.0,1155.7 L414.5,1152.3 L416.0,1148.7 L417.5,1145.2 L419.0,1141.5 L420.5,1137.9 L422.0,1134.2 L423.5,1130.4 L425.0,1126.6 L426.5,1122.7 L428.0,1118.8 L429.5,1114.9 L431.0,1110.8 L432.5,1106.7 L434.0,1102.5 L435.5,1098.2 L437.0,1093.8 L438.5,1089.3 L440.0,1084.7 L441.5,1080.0 L443.0,1075.3 L444.5,1070.6 L446.0,1065.9 L447.5,1061.1 L449.0,1056.3 L450.5,1051.5 L452.0,1046.7 L453.5,1041.9 L455.0,1037.0 L456.5,1032.0 L458.0,1027.0 L459.5,1021.8 L461.0,1016.6 L462.5,1011.3 L464.0,1006.0 L465.5,1000.8 L467.0,995.6 L468.5,990.5 L470.0,985.5 L471.5,980.6 L473.0,975.9 L474.5,971.1 L476.0,966.3 L477.5,961.4 L479.0,956.6 L480.5,951.7 L482.0,946.8 L483.5,941.9 L485.0,936.8 L486.5,931.7 L488.0,926.7 L489.5,921.8 L491.0,917.1 L492.5,912.5 L494.0,908.1 L495.5,903.7 L497.0,899.1 L498.5,894.5 L500.0,889.9 L501.5,885.5 L503.0,881.1 L504.5,876.8 L506.0,872.5 L507.5,868.3 L509.0,864.1 L510.5,860.2 L512.0,856.5 L513.5,853.0 L515.0,849.6 L516.5,846.4 L518.0,843.0 L519.5,839.6 L521.0,836.0 L522.5,832.4 L524.0,828.7 L525.5,825.2 L527.0,821.8 L528.5,818.6 L530.0,815.6 L531.5,812.6 L533.0,809.6 L534.5,806.5 L536.0,803.5 L537.5,800.6 L539.0,798.0 L540.5,795.7 L542.0,793.6 L543.5,791.5 L545.0,789.1 L546.5,786.7 L548.0,784.1 L549.5,781.8 L551.0,779.7 L552.5,777.8 L554.0,775.8 L555.5,773.7 L557.0,771.3 L558.5,768.7 L560.0,766.3 L561.5,764.0 L563.0,762.1 L564.5,760.4 L566.0,758.7 L567.5,756.7 L569.0,754.4 L570.5,751.6 L572.0,748.7 L573.5,745.7 L575.0,742.9 L576.5,740.4 L578.0,738.2 L579.5,736.3 L581.0,734.4 L582.5,732.5 L584.0,730.3 L585.5,728.0 L587.0,725.9 L588.5,724.1 L590.0,722.5 L591.5,720.9 L593.0,719.2 L594.5,717.2 L596.0,715.1 L597.5,713.1 L599.0,711.5 L600.5,710.4 L602.0,709.7 L603.5,708.9 L605.0,707.8 L606.5,706.3 L608.0,704.5 L609.5,702.7 L611.0,701.1 L612.5,699.9 L614.0,698.8 L615.5,697.9 L617.0,696.8 L618.5,695.6 L620.0,694.3 L621.5,692.9 L623.0,691.6 L624.5,690.3 L626.0,689.1 L627.5,688.1 L629.0,687.2 L630.5,686.3 L632.0,685.3 L633.5,684.1 L635.0,682.8 L636.5,681.6 L638.0,680.6 L639.5,679.6 L641.0,678.6 L642.5,677.2 L644.0,675.4 L645.5,673.6 L647.0,671.9 L648.5,670.7 L650.0,670.1 L651.5,669.7 L653.0,669.4 L654.5,668.9 L656.0,668.2 L657.5,667.3 L659.0,666.4 L660.5,665.6 L662.0,664.7 L663.5,663.6 L665.0,662.3 L666.5,660.8 L668.0,659.4 L669.5,658.2 L671.0,657.4 L672.5,656.8 L674.0,656.2 L675.5,655.7 L677.0,655.1 L678.5,654.4 L680.0,653.7 L681.5,652.9 L683.0,652.0 L684.5,651.1 L686.0,650.1 L687.5,649.3 L689.0,648.4 L690.5,647.6 L692.0,646.8 L693.5,646.0 L695.0,645.4 L696.5,645.0 L698.0,644.9 L699.5,644.8 L700.0,644.7 L703.0,643.4 L706.0,640.7 L709.0,638.9 L712.0,638.3 L715.0,637.4 L718.0,636.6 L721.0,636.7 L724.0,636.2 L727.0,634.1 L730.0,631.8 L733.0,630.8 L736.0,630.8 L739.0,630.6 L742.0,629.3 L745.0,627.8 L748.0,627.2 L751.0,626.8 L754.0,625.4 L757.0,624.1 L760.0,623.9 L763.0,622.9 L766.0,620.7 L769.0,619.5 L772.0,619.6 L775.0,618.8 L778.0,617.0 L781.0,615.4 L784.0,614.9 L787.0,614.9 L790.0,614.2 L793.0,612.3 L796.0,610.3 L799.0,609.0 L802.0,607.8 L805.0,607.2 L808.0,607.8 L811.0,608.2 L814.0,606.4 L817.0,603.7 L820.0,602.3 L823.0,601.9 L826.0,601.7 L829.0,601.6 L832.0,601.0 L835.0,599.6 L838.0,598.4 L841.0,597.8 L844.0,597.4 L847.0,597.4 L850.0,596.9 L853.0,595.6 L856.0,594.0 L859.0,593.0 L862.0,592.4 L865.0,592.3 L868.0,592.9 L871.0,592.9 L874.0,591.5 L877.0,590.0 L880.0,588.9 L883.0,587.7 L886.0,586.9 L889.0,587.3 L892.0,587.8 L895.0,587.1 L898.0,585.8 L901.0,584.6 L904.0,584.0 L907.0,583.8 L910.0,583.1 L913.0,581.8 L916.0,581.3 L919.0,581.2 L922.0,580.5 L925.0,579.8 L928.0,580.0 L931.0,579.6 L934.0,578.0 L937.0,576.7 L940.0,576.9 L943.0,577.1 L946.0,576.4 L949.0,575.2 L952.0,574.2 L955.0,574.1 L958.0,574.5 L961.0,574.3 L964.0,573.7 L967.0,573.1 L970.0,571.8 L973.0,570.2 L976.0,570.0 L979.0,571.1 L982.0,571.3 L985.0,570.4 L988.0,569.5 L991.0,568.7 L994.0,568.1 L997.0,567.8 L1000.0,567.3 L1003.0,566.6 L1006.0,566.3 L1009.0,566.1 L1012.0,565.5 L1015.0,565.0 L1018.0,564.5 L1021.0,563.7 L1024.0,563.0 L1027.0,563.0 L1030.0,562.9 L1033.0,562.2 L1036.0,561.3 L1039.0,560.1 L1042.0,558.9 L1045.0,559.1 L1048.0,560.2 L1051.0,560.3 L1054.0,559.2 L1057.0,557.9 L1060.0,556.5 L1063.0,555.2 L1066.0,554.9 L1069.0,555.4 L1072.0,556.2 L1075.0,556.5 L1078.0,555.4 L1081.0,553.4 L1084.0,552.2 L1087.0,552.1 L1090.0,551.8 L1093.0,551.7 L1096.0,552.3 L1099.0,552.2 L1102.0,550.5 L1105.0,549.0 L1108.0,549.0 L1111.0,549.7 L1114.0,549.9 L1117.0,549.2 L1120.0,547.8 L1123.0,546.5 L1126.0,546.0 L1129.0,545.8 L1132.0,546.3 L1135.0,547.2 L1138.0,547.0 L1141.0,545.2 L1144.0,543.7 L1147.0,543.4 L1150.0,543.2 L1153.0,542.8 L1156.0,542.8 L1159.0,542.9 L1162.0,542.8 L1165.0,542.7 L1168.0,542.1 L1171.0,540.8 L1174.0,539.8 L1177.0,539.5 L1180.0,539.5 L1183.0,539.9 L1186.0,540.3 L1189.0,539.6 L1192.0,538.4 L1195.0,537.7 L1198.0,537.5 L1201.0,537.7 L1204.0,538.2 L1207.0,537.7 L1210.0,536.1 L1213.0,535.1 L1216.0,535.6 L1219.0,536.1 L1222.0,535.9 L1225.0,535.8 L1228.0,535.4 L1231.0,534.5 L1234.0,533.6 L1237.0,533.2 L1240.0,533.4 L1243.0,533.7 L1246.0,533.3 L1249.0,532.4 L1252.0,532.4 L1255.0,533.0 L1258.0,532.3 L1261.0,531.1 L1264.0,530.9 L1267.0,531.3 L1270.0,530.6 L1273.0,529.9 L1276.0,530.1 L1279.0,530.4 L1282.0,530.2 L1285.0,529.5 L1288.0,528.9 L1291.0,528.9 L1294.0,528.9 L1297.0,528.1 L1300.0,527.5 L1303.0,527.8 L1306.0,527.7 L1309.0,526.8 L1312.0,526.5 L1315.0,527.4 L1318.0,527.7 L1321.0,526.8 L1324.0,525.6 L1327.0,524.6 L1330.0,524.1 L1333.0,524.5 L1336.0,525.4 L1339.0,525.8 L1342.0,525.5 L1345.0,524.3 L1348.0,522.9 L1351.0,522.7 L1354.0,523.3 L1357.0,523.4 L1360.0,522.9 L1363.0,522.5 L1366.0,521.9 L1369.0,521.4 L1372.0,522.1 L1375.0,522.8 L1378.0,522.0 L1381.0,520.6 L1384.0,520.0 L1387.0,519.9 L1390.0,519.7 L1393.0,519.8 L1396.0,520.0 L1399.0,520.1 L1402.0,519.9 L1405.0,519.3 L1408.0,518.7 L1411.0,518.5 L1414.0,517.8 L1417.0,516.5 L1420.0,516.6 L1423.0,518.4 L1426.0,519.1 L1429.0,517.8 L1432.0,516.6 L1435.0,516.1 L1438.0,515.6 L1441.0,515.2 L1444.0,515.7 L1447.0,516.6 L1450.0,516.5 L1453.0,515.1 L1456.0,513.6 L1459.0,514.0 L1462.0,515.2 L1465.0,515.3 L1468.0,514.4 L1471.0,514.2 L1474.0,513.8 L1477.0,512.3 L1480.0,511.4 L1483.0,512.7 L1486.0,514.3 L1489.0,514.3 L1492.0,513.2 L1495.0,512.0 L1498.0,511.0 L1501.0,510.6 L1504.0,510.8 L1507.0,511.8 L1510.0,512.8 L1513.0,512.3 L1516.0,510.4 L1519.0,509.4 L1522.0,510.2 L1525.0,510.7 L1528.0,510.6 L1531.0,510.6 L1534.0,510.1 L1537.0,508.9 L1540.0,508.4 L1543.0,509.2 L1546.0,509.7 L1549.0,509.4 L1552.0,508.9 L1555.0,508.7 L1558.0,508.6 L1561.0,508.4 L1564.0,507.7 L1567.0,507.2 L1570.0,507.3 L1573.0,507.3 L1576.0,507.3 L1579.0,508.4 L1582.0,509.0 L1585.0,507.3 L1588.0,505.3 L1591.0,505.3 L1594.0,506.2 L1597.0,506.3 L1600.0,506.3 L1603.0,506.8 L1606.0,506.8 L1609.0,505.8 L1612.0,504.8 L1615.0,504.8 L1618.0,505.6 L1621.0,505.5 L1624.0,504.2 L1627.0,504.1 L1630.0,505.3 L1633.0,505.2 L1636.0,503.8 L1639.0,503.7 L1642.0,504.9 L1645.0,504.8 L1648.0,503.5 L1651.0,502.9 L1654.0,503.1 L1657.0,502.9 L1660.0,502.5 L1663.0,502.9 L1666.0,504.2 L1669.0,504.6 L1672.0,503.1 L1675.0,501.3 L1678.0,501.2 L1681.0,501.9 L1684.0,501.6 L1687.0,501.7 L1690.0,503.1 L1693.0,503.5 L1696.0,502.0 L1699.0,500.7 L1702.0,500.6 L1705.0,500.8 L1708.0,500.8 L1711.0,501.3 L1714.0,501.7 L1717.0,501.5 L1720.0,500.4 L1723.0,499.4 L1726.0,499.9 L1729.0,501.1 L1732.0,501.2 L1735.0,500.3 L1738.0,499.7 L1741.0,499.2 L1744.0,498.3 L1747.0,498.7 L1750.0,500.4 L1753.0,500.8 L1756.0,499.3 L1759.0,498.3 L1762.0,498.4 L1765.0,498.4 L1768.0,498.0 L1771.0,497.9 L1774.0,498.2 L1777.0,498.4 L1780.0,497.8 L1783.0,497.3 L1786.0,497.9 L1789.0,498.1 L1792.0,496.6 L1795.0,495.4 L1798.0,496.7 L1801.0,497.8 L1804.0,496.7 L1807.0,495.3 L1810.0,495.5 L1813.0,496.1 L1816.0,495.8 L1819.0,495.8 L1822.0,496.3 L1825.0,496.1 L1828.0,494.4 L1831.0,492.6 L1834.0,493.2 L1837.0,495.5 L1840.0,496.1 L1843.0,494.7 L1846.0,494.0 L1849.0,494.1 L1852.0,493.1 L1855.0,492.0 L1858.0,492.8 L1861.0,494.2 L1864.0,493.9 L1867.0,492.5 L1870.0,492.1 L1873.0,492.7 L1876.0,493.0 L1879.0,492.6 L1882.0,492.2 L1885.0,492.4 L1888.0,491.8 L1891.0,490.3 L1894.0,490.2 L1897.0,492.0 L1900.0,493.1 L1903.0,492.3 L1906.0,491.4 L1909.0,491.0 L1912.0,490.0 L1915.0,489.4 L1918.0,490.4 L1921.0,491.5 L1924.0,491.3 L1927.0,490.3 L1930.0,489.9 L1933.0,490.4 L1936.0,490.9 L1939.0,490.3 L1942.0,489.5 L1945.0,489.3 L1948.0,489.1 L1951.0,488.7 L1954.0,489.7 L1957.0,491.4 L1960.0,490.9 L1963.0,488.5 L1966.0,487.7 L1969.0,488.8 L1972.0,489.4 L1975.0,489.2 L1978.0,489.1 L1981.0,489.2 L1984.0,488.5 L1987.0,487.5 L1990.0,487.9 L1993.0,489.6 L1996.0,490.3 L1999.0,488.5 L2002.0,486.7 L2005.0,487.3 L2008.0,488.1 L2011.0,487.5 L2014.0,487.5 L2017.0,489.1 L2020.0,489.5 L2023.0,487.7 L2026.0,486.3 L2029.0,486.7 L2032.0,487.4 L2035.0,487.2 L2038.0,487.0 L2041.0,487.7 L2044.0,488.3 L2047.0,487.1 L2050.0,485.4 L2053.0,485.9 L2056.0,487.6 L2059.0,487.6 L2062.0,486.4 L2065.0,486.3 L2068.0,486.5 L2071.0,485.4 L2074.0,484.9 L2077.0,486.1 L2080.0,487.3 L2083.0,487.1 L2086.0,486.1 L2089.0,485.3 L2092.0,485.0 L2095.0,484.6 L2098.0,484.1 L2101.0,484.8 L2104.0,486.4 L2107.0,486.6 L2110.0,485.3 L2113.0,484.6 L2116.0,484.4 L2119.0,483.5 L2122.0,483.2 L2125.0,484.6 L2128.0,485.6 L2131.0,484.6 L2134.0,483.4 L2137.0,483.5 L2140.0,484.1 L2143.0,484.1 L2146.0,483.7 L2149.0,483.5 L2152.0,483.6 L2155.0,482.9 L2158.0,482.0 L2161.0,482.7 L2164.0,484.3 L2167.0,484.0 L2170.0,482.4 L2173.0,482.6 L2176.0,483.6 L2179.0,482.8 L2182.0,481.0 L2185.0,481.1 L2188.0,482.4 L2191.0,482.9 L2194.0,482.7 L2197.0,482.9 L2200.0,483.1 L2203.0,481.9 L2206.0,479.9 L2209.0,479.6 L2212.0,481.9 L2215.0,483.3 L2218.0,482.0 L2221.0,480.8 L2224.0,481.3 L2227.0,481.4 L2230.0,480.5 L2233.0,480.6 L2236.0,481.7 L2239.0,481.5 L2242.0,480.0 L2245.0,479.4 L2248.0,480.4 L2251.0,481.5 L2254.0,481.2 L2257.0,480.2 L2260.0,480.2 L2263.0,480.5 L2266.0,479.7 L2269.0,479.0 L2272.0,479.9 L2275.0,480.7 L2278.0,479.8 L2281.0,479.1 L2284.0,479.8 L2287.0,480.2 L2290.0,479.7 L2293.0,479.4 L2296.0,479.5 L2299.0,479.1 L2302.0,478.3 L2305.0,478.3 L2308.0,479.3 L2311.0,480.3 L2314.0,480.0 L2317.0,478.7 L2320.0,478.2 L2323.0,478.4 L2326.0,478.2 L2329.0,478.5 L2332.0,479.7 L2335.0,479.6 L2338.0,477.5 L2341.0,476.5 L2344.0,478.1 L2347.0,479.8 L2350.0,479.8 L2353.0,478.8"/>
<path class="c" stroke="#00b050" d="M293.1,1592.0 L302.0,1213.0 L304.5,1245.0 L307.0,1272.0 L312.0,1287.0 L312.0,1287.0 L313.5,1285.8 L315.0,1284.7 L316.5,1283.5 L318.0,1282.2 L319.5,1281.0 L321.0,1279.8 L322.5,1278.6 L324.0,1277.3 L325.5,1276.0 L327.0,1274.7 L328.5,1273.5 L330.0,1272.2 L331.5,1270.9 L333.0,1269.5 L334.5,1268.2 L336.0,1266.9 L337.5,1265.6 L339.0,1264.2 L340.5,1262.8 L342.0,1261.4 L343.5,1259.9 L345.0,1258.4 L346.5,1256.9 L348.0,1255.4 L349.5,1253.8 L351.0,1252.2 L352.5,1250.5 L354.0,1248.7 L355.5,1246.9 L357.0,1245.0 L358.5,1243.0 L360.0,1241.0 L361.5,1238.8 L363.0,1236.6 L364.5,1234.4 L366.0,1232.0 L367.5,1229.6 L369.0,1227.0 L370.5,1224.4 L372.0,1221.7 L373.5,1219.0 L375.0,1216.1 L376.5,1213.2 L378.0,1210.2 L379.5,1207.2 L381.0,1204.1 L382.5,1200.9 L384.0,1197.7 L385.5,1194.4 L387.0,1191.1 L388.5,1187.6 L390.0,1184.0 L391.5,1180.3 L393.0,1176.5 L394.5,1172.5 L396.0,1168.3 L397.5,1163.9 L399.0,1159.2 L400.5,1154.3 L402.0,1149.3 L403.5,1144.1 L405.0,1138.8 L406.5,1133.4 L408.0,1128.0 L409.5,1122.5 L411.0,1117.1 L412.5,1111.8 L414.0,1106.5 L415.5,1101.2 L417.0,1096.0 L418.5,1090.7 L420.0,1085.4 L421.5,1080.0 L423.0,1074.6 L424.5,1069.1 L426.0,1063.5 L427.5,1057.8 L429.0,1052.0 L430.5,1046.0 L432.0,1039.7 L433.5,1033.1 L435.0,1026.4 L436.5,1019.6 L438.0,1012.8 L439.5,1005.9 L441.0,999.1 L442.5,992.5 L444.0,986.1 L445.5,979.9 L447.0,974.1 L448.5,968.3 L450.0,962.6 L451.5,956.9 L453.0,951.2 L454.5,945.5 L456.0,939.8 L457.5,934.3 L459.0,928.9 L460.5,923.5 L462.0,918.2 L463.5,913.0 L465.0,907.8 L466.5,902.7 L468.0,897.5 L469.5,892.5 L471.0,887.7 L472.5,883.1 L474.0,878.6 L475.5,874.1 L477.0,869.6 L478.5,865.3 L480.0,861.3 L481.5,857.5 L483.0,853.9 L484.5,850.1 L486.0,846.0 L487.5,841.9 L489.0,837.9 L490.5,834.2 L492.0,830.7 L493.5,827.3 L495.0,823.9 L496.5,820.6 L498.0,817.4 L499.5,814.4 L501.0,811.4 L502.5,808.6 L504.0,805.9 L505.5,803.2 L507.0,800.4 L508.5,797.4 L510.0,794.5 L511.5,791.8 L513.0,789.6 L514.5,787.5 L516.0,785.5 L517.5,783.3 L519.0,781.2 L520.5,779.3 L522.0,777.5 L523.5,775.7 L525.0,773.6 L526.5,771.6 L528.0,769.6 L529.5,767.8 L531.0,765.9 L532.5,763.8 L534.0,761.7 L535.5,759.9 L537.0,758.6 L538.5,757.4 L540.0,756.1 L541.5,754.3 L543.0,752.3 L544.5,750.5 L546.0,748.9 L547.5,747.4 L549.0,745.8 L550.5,743.9 L552.0,741.9 L553.5,739.9 L555.0,738.1 L556.5,736.5 L558.0,735.3 L559.5,734.3 L561.0,733.4 L562.5,732.2 L564.0,730.7 L565.5,729.0 L567.0,727.6 L568.5,726.6 L570.0,725.7 L571.5,724.5 L573.0,722.7 L574.5,720.8 L576.0,719.4 L577.5,718.7 L579.0,718.3 L580.5,717.7 L582.0,716.7 L583.5,715.5 L585.0,714.5 L586.5,713.7 L588.0,712.7 L589.5,711.6 L591.0,710.5 L592.5,709.6 L594.0,708.9 L595.5,708.3 L597.0,707.5 L598.5,706.5 L600.0,705.7 L601.5,705.1 L603.0,704.5 L604.5,703.7 L606.0,702.5 L607.5,701.2 L609.0,700.0 L610.5,699.0 L612.0,698.2 L613.5,697.5 L615.0,697.2 L616.5,697.0 L618.0,696.6 L619.5,695.7 L621.0,694.5 L622.5,693.3 L624.0,692.7 L625.5,692.4 L627.0,691.7 L628.5,690.3 L630.0,688.3 L631.5,686.6 L633.0,685.8 L634.5,685.6 L636.0,685.1 L637.5,683.8 L639.0,682.1 L640.5,680.5 L642.0,679.5 L643.5,678.8 L645.0,678.2 L646.5,677.4 L648.0,676.5 L649.5,675.8 L651.0,675.1 L652.5,674.3 L654.0,673.6 L655.5,672.8 L657.0,672.2 L658.5,671.3 L660.0,670.2 L661.5,668.7 L663.0,667.5 L664.5,666.7 L666.0,666.3 L667.5,665.9 L669.0,665.3 L670.5,664.7 L672.0,664.3 L673.5,664.0 L675.0,663.5 L676.5,662.5 L678.0,661.3 L679.5,660.3 L681.0,659.8 L682.5,659.4 L684.0,658.6 L685.5,657.4 L687.0,656.2 L688.5,655.7 L690.0,655.9 L691.5,656.2 L693.0,655.8 L694.5,654.9 L696.0,653.7 L697.5,653.0 L699.0,652.6 L700.0,652.5 L703.0,651.2 L706.0,649.6 L709.0,648.4 L712.0,648.2 L715.0,647.8 L718.0,646.1 L721.0,645.2 L724.0,644.5 L727.0,642.5 L730.0,642.4 L733.0,642.3 L736.0,641.1 L739.0,640.6 L742.0,639.0 L745.0,637.4 L748.0,637.5 L751.0,636.8 L754.0,636.1 L757.0,635.7 L760.0,634.3 L763.0,632.9 L766.0,632.0 L769.0,632.0 L772.0,631.3 L775.0,629.2 L778.0,628.7 L781.0,627.7 L784.0,626.5 L787.0,627.4 L790.0,626.9 L793.0,624.8 L796.0,623.5 L799.0,621.5 L802.0,620.7 L805.0,621.4 L808.0,621.6 L811.0,621.3 L814.0,619.9 L817.0,618.2 L820.0,616.7 L823.0,615.6 L826.0,616.4 L829.0,616.3 L832.0,615.4 L835.0,615.6 L838.0,614.1 L841.0,612.6 L844.0,613.0 L847.0,612.4 L850.0,611.9 L853.0,612.0 L856.0,610.8 L859.0,609.9 L862.0,609.2 L865.0,608.9 L868.0,609.0 L871.0,608.7 L874.0,608.6 L877.0,607.2 L880.0,605.7 L883.0,605.7 L886.0,604.7 L889.0,604.1 L892.0,605.0 L895.0,603.8 L898.0,602.8 L901.0,603.0 L904.0,601.9 L907.0,601.0 L910.0,600.1 L913.0,599.2 L916.0,598.7 L919.0,598.3 L922.0,598.8 L925.0,598.4 L928.0,597.1 L931.0,596.3 L934.0,594.8 L937.0,594.5 L940.0,595.3 L943.0,594.2 L946.0,593.6 L949.0,593.3 L952.0,591.4 L955.0,591.4 L958.0,592.4 L961.0,592.0 L964.0,590.9 L967.0,589.7 L970.0,588.9 L973.0,587.9 L976.0,587.7 L979.0,589.1 L982.0,588.5 L985.0,587.2 L988.0,586.9 L991.0,585.5 L994.0,585.1 L997.0,585.4 L1000.0,584.7 L1003.0,584.8 L1006.0,584.0 L1009.0,582.3 L1012.0,582.3 L1015.0,582.4 L1018.0,582.1 L1021.0,582.1 L1024.0,581.9 L1027.0,580.9 L1030.0,578.6 L1033.0,578.0 L1036.0,579.0 L1039.0,578.2 L1042.0,578.6 L1045.0,579.4 L1048.0,577.4 L1051.0,576.2 L1054.0,576.0 L1057.0,575.5 L1060.0,575.3 L1063.0,574.5 L1066.0,573.9 L1069.0,573.9 L1072.0,573.4 L1075.0,573.7 L1078.0,573.8 L1081.0,572.9 L1084.0,571.4 L1087.0,569.6 L1090.0,570.2 L1093.0,570.7 L1096.0,569.6 L1099.0,570.5 L1102.0,570.3 L1105.0,568.0 L1108.0,568.0 L1111.0,568.6 L1114.0,567.9 L1117.0,566.8 L1120.0,566.0 L1123.0,565.7 L1126.0,564.7 L1129.0,564.8 L1132.0,566.3 L1135.0,565.9 L1138.0,564.9 L1141.0,563.9 L1144.0,562.3 L1147.0,561.9 L1150.0,561.2 L1153.0,561.1 L1156.0,562.9 L1159.0,562.6 L1162.0,561.4 L1165.0,561.8 L1168.0,560.8 L1171.0,558.9 L1174.0,558.3 L1177.0,558.9 L1180.0,558.9 L1183.0,557.9 L1186.0,559.1 L1189.0,559.9 L1192.0,558.1 L1195.0,557.8 L1198.0,557.5 L1201.0,555.9 L1204.0,555.7 L1207.0,555.9 L1210.0,556.5 L1213.0,556.9 L1216.0,555.6 L1219.0,555.3 L1222.0,555.7 L1225.0,555.1 L1228.0,555.0 L1231.0,555.1 L1234.0,554.3 L1237.0,552.4 L1240.0,551.6 L1243.0,554.0 L1246.0,554.7 L1249.0,554.0 L1252.0,555.0 L1255.0,553.4 L1258.0,550.3 L1261.0,550.4 L1264.0,551.5 L1267.0,552.1 L1270.0,552.2 L1273.0,552.0 L1276.0,552.0 L1279.0,550.7 L1282.0,550.2 L1285.0,551.0 L1288.0,550.7 L1291.0,549.9 L1294.0,548.9 L1297.0,548.7 L1300.0,549.6 L1303.0,548.8 L1306.0,549.3 L1309.0,551.0 L1312.0,549.1 L1315.0,547.3 L1318.0,547.6 L1321.0,546.9 L1324.0,546.2 L1327.0,546.8 L1330.0,548.2 L1333.0,547.8 L1336.0,546.2 L1339.0,546.6 L1342.0,546.5 L1345.0,545.0 L1348.0,545.3 L1351.0,545.1 L1354.0,544.3 L1357.0,544.0 L1360.0,543.6 L1363.0,544.8 L1366.0,545.3 L1369.0,543.6 L1372.0,543.4 L1375.0,543.2 L1378.0,541.8 L1381.0,541.3 L1384.0,541.9 L1387.0,542.0 L1390.0,540.6 L1393.0,540.7 L1396.0,542.7 L1399.0,541.9 L1402.0,540.5 L1405.0,540.6 L1408.0,538.6 L1411.0,536.9 L1414.0,537.8 L1417.0,539.2 L1420.0,540.2 L1423.0,539.7 L1426.0,538.7 L1429.0,538.1 L1432.0,536.5 L1435.0,535.8 L1438.0,536.4 L1441.0,536.6 L1444.0,536.2 L1447.0,535.3 L1450.0,536.1 L1453.0,536.8 L1456.0,535.2 L1459.0,535.4 L1462.0,535.9 L1465.0,533.3 L1468.0,532.4 L1471.0,533.2 L1474.0,533.2 L1477.0,533.3 L1480.0,534.0 L1483.0,534.7 L1486.0,533.7 L1489.0,531.9 L1492.0,531.9 L1495.0,531.3 L1498.0,530.6 L1501.0,530.9 L1504.0,530.9 L1507.0,531.6 L1510.0,531.8 L1513.0,531.3 L1516.0,532.3 L1519.0,531.4 L1522.0,528.4 L1525.0,527.9 L1528.0,528.2 L1531.0,528.4 L1534.0,529.8 L1537.0,531.5 L1540.0,531.3 L1543.0,528.6 L1546.0,527.3 L1549.0,527.8 L1552.0,526.9 L1555.0,527.4 L1558.0,528.6 L1561.0,527.5 L1564.0,527.1 L1567.0,527.2 L1570.0,527.5 L1573.0,528.3 L1576.0,527.4 L1579.0,526.1 L1582.0,525.7 L1585.0,524.7 L1588.0,524.6 L1591.0,525.7 L1594.0,526.9 L1597.0,526.8 L1600.0,525.7 L1603.0,526.0 L1606.0,525.3 L1609.0,523.1 L1612.0,523.7 L1615.0,524.3 L1618.0,523.4 L1621.0,524.3 L1624.0,525.1 L1627.0,524.7 L1630.0,524.3 L1633.0,523.6 L1636.0,523.3 L1639.0,522.5 L1642.0,521.8 L1645.0,522.2 L1648.0,522.4 L1651.0,523.0 L1654.0,523.1 L1657.0,522.5 L1660.0,522.9 L1663.0,521.9 L1666.0,520.8 L1669.0,521.8 L1672.0,521.1 L1675.0,519.7 L1678.0,520.6 L1681.0,521.1 L1684.0,521.3 L1687.0,521.9 L1690.0,522.0 L1693.0,520.8 L1696.0,518.6 L1699.0,518.3 L1702.0,519.2 L1705.0,519.4 L1708.0,520.7 L1711.0,520.6 L1714.0,519.2 L1717.0,519.1 L1720.0,518.6 L1723.0,518.8 L1726.0,519.8 L1729.0,518.5 L1732.0,517.2 L1735.0,517.1 L1738.0,516.9 L1741.0,517.7 L1744.0,519.0 L1747.0,519.7 L1750.0,518.6 L1753.0,516.5 L1756.0,516.1 L1759.0,515.2 L1762.0,514.7 L1765.0,516.6 L1768.0,517.1 L1771.0,516.8 L1774.0,517.3 L1777.0,516.1 L1780.0,515.2 L1783.0,514.9 L1786.0,514.1 L1789.0,514.0 L1792.0,514.1 L1795.0,514.2 L1798.0,514.4 L1801.0,514.7 L1804.0,515.3 L1807.0,514.4 L1810.0,513.0 L1813.0,512.9 L1816.0,511.6 L1819.0,511.3 L1822.0,512.9 L1825.0,512.7 L1828.0,512.5 L1831.0,512.8 L1834.0,511.9 L1837.0,511.8 L1840.0,511.9 L1843.0,511.2 L1846.0,510.3 L1849.0,509.2 L1852.0,509.4 L1855.0,509.9 L1858.0,511.0 L1861.0,512.5 L1864.0,511.2 L1867.0,509.6 L1870.0,509.0 L1873.0,507.3 L1876.0,507.5 L1879.0,509.0 L1882.0,508.9 L1885.0,509.2 L1888.0,509.4 L1891.0,509.0 L1894.0,508.6 L1897.0,507.8 L1900.0,507.3 L1903.0,506.6 L1906.0,506.3 L1909.0,507.2 L1912.0,507.4 L1915.0,508.0 L1918.0,508.4 L1921.0,506.8 L1924.0,506.6 L1927.0,506.7 L1930.0,505.3 L1933.0,505.7 L1936.0,506.4 L1939.0,505.7 L1942.0,505.7 L1945.0,506.1 L1948.0,506.3 L1951.0,506.0 L1954.0,505.7 L1957.0,506.0 L1960.0,504.6 L1963.0,503.6 L1966.0,504.0 L1969.0,503.9 L1972.0,505.1 L1975.0,506.2 L1978.0,505.4 L1981.0,505.1 L1984.0,503.7 L1987.0,502.2 L1990.0,503.3 L1993.0,504.2 L1996.0,504.0 L1999.0,503.9 L2002.0,503.6 L2005.0,503.1 L2008.0,502.6 L2011.0,503.9 L2014.0,504.8 L2017.0,502.8 L2020.0,502.0 L2023.0,502.0 L2026.0,501.0 L2029.0,502.2 L2032.0,503.7 L2035.0,503.6 L2038.0,503.2 L2041.0,501.9 L2044.0,501.2 L2047.0,501.4 L2050.0,501.2 L2053.0,501.5 L2056.0,501.9 L2059.0,501.9 L2062.0,501.5 L2065.0,501.1 L2068.0,502.0 L2071.0,501.7 L2074.0,500.3 L2077.0,501.4 L2080.0,501.2 L2083.0,499.5 L2086.0,500.2 L2089.0,500.9 L2092.0,500.6 L2095.0,501.0 L2098.0,501.4 L2101.0,501.4 L2104.0,500.1 L2107.0,499.3 L2110.0,499.7 L2113.0,499.3 L2116.0,499.4 L2119.0,500.2 L2122.0,500.6 L2125.0,501.4 L2128.0,500.6 L2131.0,499.5 L2134.0,499.7 L2137.0,498.1 L2140.0,497.4 L2143.0,499.7 L2146.0,500.5 L2149.0,500.0 L2152.0,499.8 L2155.0,499.5 L2158.0,498.4 L2161.0,497.5 L2164.0,499.0 L2167.0,499.6 L2170.0,497.8 L2173.0,497.8 L2176.0,498.1 L2179.0,497.7 L2182.0,498.7 L2185.0,498.9 L2188.0,498.7 L2191.0,497.9 L2194.0,496.0 L2197.0,496.2 L2200.0,497.2 L2203.0,496.9 L2206.0,497.1 L2209.0,497.7 L2212.0,497.5 L2215.0,496.3 L2218.0,496.0 L2221.0,497.0 L2224.0,495.6 L2227.0,494.3 L2230.0,496.0 L2233.0,495.9 L2236.0,495.1 L2239.0,496.4 L2242.0,496.4 L2245.0,495.4 L2248.0,494.3 L2251.0,493.8 L2254.0,494.2 L2257.0,493.9 L2260.0,494.3 L2263.0,495.4 L2266.0,495.1 L2269.0,494.1 L2272.0,493.0 L2275.0,493.1 L2278.0,493.9 L2281.0,493.0 L2284.0,493.5 L2287.0,494.5 L2290.0,492.2 L2293.0,491.5 L2296.0,493.3 L2299.0,493.4 L2302.0,492.9 L2305.0,493.0 L2308.0,492.7 L2311.0,491.4 L2314.0,490.6 L2317.0,492.3 L2320.0,492.9 L2323.0,491.9 L2326.0,492.1 L2329.0,491.7 L2332.0,491.4 L2335.0,491.6 L2338.0,491.2 L2341.0,492.0 L2344.0,491.8 L2347.0,490.2 L2350.0,491.1 L2353.0,492.0"/>
</g>
<g font-size="80" text-anchor="middle">
<text x="207" y="1611.8">0</text>
<text x="207" y="1229.6">1</text>
<text x="207" y="847.4">2</text>
<text x="207" y="465.2">3</text>
<text x="207" y="83.0">4</text>
<text x="294.5" y="1711">0</text>
<text x="637.0" y="1711">5</text>
<text x="979.5" y="1711">10</text>
<text x="1321.9" y="1711">15</text>
<text x="1664.4" y="1711">20</text>
<text x="2006.9" y="1711">25</text>
<text x="2349.4" y="1711">30</text>
</g>
<text x="1337" y="1833" font-size="127" text-anchor="middle" textLength="613.5" lengthAdjust="spacingAndGlyphs">Time (min)</text>
<text transform="translate(108.4 832) rotate(-90)" font-size="125.5" text-anchor="middle" textLength="751.6" lengthAdjust="spacingAndGlyphs">Torque (N-m)</text>
<line class="lg" stroke="#000000" x1="1640.5" y1="1028.6" x2="1786.5" y2="1028.6"/>
<text x="1829" y="1067.4" font-size="81" textLength="317.6" lengthAdjust="spacingAndGlyphs">TDAE oil</text>
<line class="lg" stroke="#ff0000" x1="1640.5" y1="1176.3" x2="1786.5" y2="1176.3"/>
<text x="1829" y="1214.8" font-size="81" textLength="284.5" lengthAdjust="spacingAndGlyphs">N-LqBR</text>
<line class="lg" stroke="#0000ff" x1="1640.5" y1="1319.3" x2="1786.5" y2="1319.3"/>
<text x="1829.5" y="1357.8" font-size="81" textLength="434.7" lengthAdjust="spacingAndGlyphs">2-Azo-LqBR</text>
<line class="lg" stroke="#00b050" x1="1640.5" y1="1465.8" x2="1786.5" y2="1465.8"/>
<text x="1828" y="1505.2" font-size="81" textLength="435.9" lengthAdjust="spacingAndGlyphs">4-Azo-LqBR</text>
</svg>
</body>
</html>
